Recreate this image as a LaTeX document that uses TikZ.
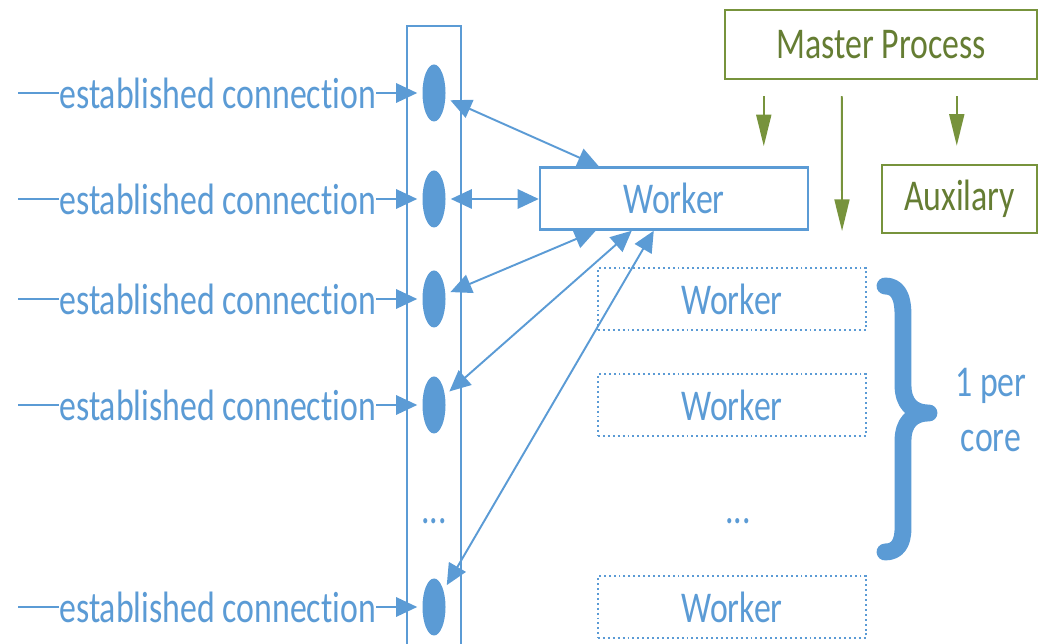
\documentclass[tikz,border=0pt]{standalone}
\usepackage{fontspec}
\setmainfont[Ligatures=NoCommon, FakeStretch=0.77]{Carlito}
\usetikzlibrary{arrows.meta,shapes.geometric,calc}
\definecolor{officeblue}{HTML}{5B9BD5}
\definecolor{olivegreen}{HTML}{77933C}
% one drawing unit
\newdimen\pxu \pxu=0.02cm

\begin{document}
\begin{tikzpicture}[x=0.02cm,y=-0.02cm,
  lbl/.style={font=\fontsize{25}{30}\selectfont},
  bluebox/.style={draw=officeblue, line width=1.4pt, text=officeblue, lbl,
    minimum width=268\pxu, minimum height=62\pxu, inner sep=0},
  poolbox/.style={bluebox, line width=1.1pt, dash pattern=on 1.1pt off 1.7pt},
  greenbox/.style={draw=olivegreen, line width=1.4pt, text=olivegreen!85!black, lbl, inner sep=0},
  conn/.style={officeblue, line width=1.2pt, -{Triangle[length=12pt,width=11pt]}},
  dconn/.style={officeblue, line width=1.1pt,
    {Triangle[length=12pt,width=11pt]}-{Triangle[length=12pt,width=11pt]}},
  ctrl/.style={olivegreen, line width=1.1pt, -{Triangle[length=18pt,width=8.5pt]}},
  sock/.style={ellipse, fill=officeblue, minimum width=23\pxu, minimum height=57\pxu,
    inner sep=0, outer sep=3pt},
  entry/.style={fill=white, inner sep=0, text=officeblue, lbl},
]
\useasboundingbox (0,0) rectangle (1041,644);
\clip (0,0) rectangle (1041,644);

% column of accepted sockets
\node[draw=officeblue, line width=1.4pt, minimum width=54\pxu, minimum height=630\pxu, inner sep=0]
  (col) at (434,341) {};
\node[sock] (s1) at (434,93) {};
\node[sock] (s2) at (434,199) {};
\node[sock] (s3) at (434,299) {};
\node[sock] (s4) at (434,405) {};
\node[sock] (s5) at (434,607) {};
\node[text=officeblue, lbl] (sdots) at (434,521) {...};

% incoming connections
\coordinate (in1) at (18,93);
\coordinate (in2) at (18,199);
\coordinate (in3) at (18,299);
\coordinate (in4) at (18,405);
\coordinate (in5) at (18,607);
\draw[conn] (in1) -- node[entry] {established connection} (s1);
\draw[conn] (in2) -- node[entry] {established connection} (s2);
\draw[conn] (in3) -- node[entry] {established connection} (s3);
\draw[conn] (in4) -- node[entry] {established connection} (s4);
\draw[conn] (in5) -- node[entry] {established connection} (s5);

% workers
\node[bluebox] (worker) at (674,198.5) {Worker};
\node[poolbox] (pool1) at (732,299) {Worker};
\node[poolbox] (pool2) at (732,405) {Worker};
\node[text=officeblue, lbl] (pooldots) at (738,521) {...};
\node[poolbox] (pool4) at (732,607) {Worker};

% worker <-> sockets
\draw[dconn] (s1) -- ($(worker.north west)+(60,0)$);
\draw[dconn] (s2) -- (s2 -| worker.west);
\draw[dconn] (s3) -- ($(worker.south west)+(57,0)$);
\draw[dconn] (s4) -- ($(worker.south west)+(93,0)$);
\draw[dconn] (s5) -- ($(worker.south west)+(115,0)$);

% master and auxiliary processes
\node[greenbox, minimum width=312\pxu, minimum height=69\pxu] (master) at (881,44.5) {Master Process};
\node[greenbox, minimum width=155\pxu, minimum height=68\pxu] (aux) at (959.5,199) {Auxilary};
\draw[ctrl] ([xshift=40\pxu, yshift=-16\pxu]master.south west) -- ([xshift=225\pxu, yshift=20\pxu]worker.north west);
\draw[ctrl] ([xshift=118\pxu, yshift=-16\pxu]master.south west) -- ([xshift=245\pxu, yshift=36\pxu]pool1.north west);
\draw[ctrl] ([xshift=233\pxu, yshift=-16\pxu]master.south west) -- ([xshift=76\pxu, yshift=18\pxu]aux.north west);

% brace over the worker pool
\draw[officeblue, line width=9.6pt, line cap=round, line join=round]
  (885,286) .. controls (897,286) and (903,295) .. (903,315) -- (903,385)
  .. controls (903,403) and (912,413) .. (929,413)
  .. controls (912,413) and (903,423) .. (903,441) -- (903,528)
  .. controls (903,544) and (897,552) .. (885,552);
\node[text=officeblue, align=center, font=\fontsize{25}{31.7}\selectfont] (percore) at (991,410) {1 per\\core};
\end{tikzpicture}
\end{document}
